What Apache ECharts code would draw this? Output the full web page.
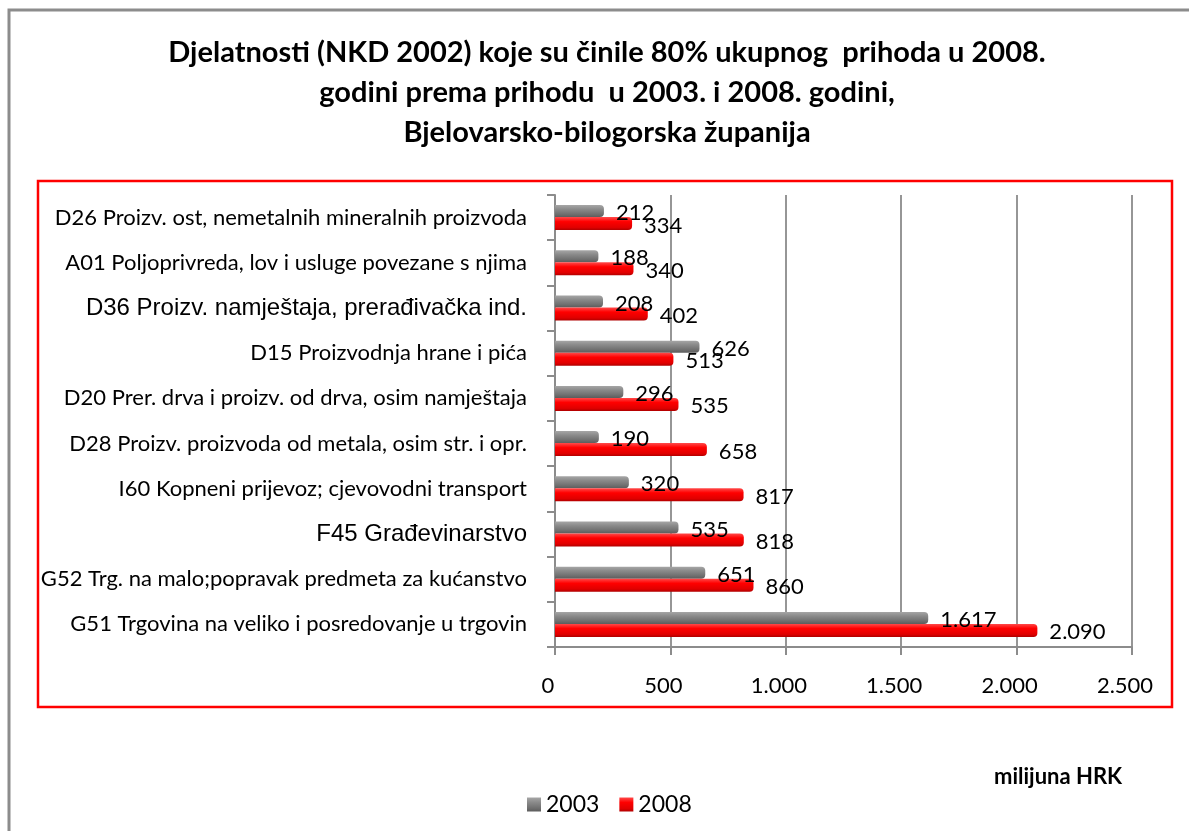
<!DOCTYPE html>
<html>
<head>
<meta charset="utf-8">
<script src="https://cdn.jsdelivr.net/npm/echarts@6/dist/echarts.min.js"></script>
<style>
  html, body { margin: 0; padding: 0; background: #fff; }
  #chart { width: 1189px; height: 831px; }
</style>
</head>
<body>
<div id="chart"></div>
<script>
// data
const categories = [
    'D26 Proizv. ost, nemetalnih mineralnih proizvoda',
    'A01 Poljoprivreda, lov i usluge povezane s njima',
    'D36 Proizv. namještaja, prerađivačka ind.',
    'D15 Proizvodnja hrane i pića',
    'D20 Prer. drva i proizv. od drva, osim namještaja',
    'D28 Proizv. proizvoda od metala, osim str. i opr.',
    'I60 Kopneni prijevoz; cjevovodni transport',
    'F45 Građevinarstvo',
    'G52 Trg. na malo;popravak predmeta za kućanstvo',
    'G51 Trgovina na veliko i posredovanje u trgovin'
];
const values2003 = [212, 188, 208, 626, 296, 190, 320, 535, 651, 1617];
const values2008 = [334, 340, 402, 513, 535, 658, 817, 818, 860, 2090];
const seriesNames = ['2003', '2008'];
const xTicks = [0, 500, 1000, 1500, 2000, 2500];
const titleLines = [
    'Djelatnosti (NKD 2002) koje su činile 80% ukupnog  prihoda u 2008.',
    'godini prema prihodu  u 2003. i 2008. godini,',
    'Bjelovarsko-bilogorska županija'
];
const unitText = 'milijuna HRK';
// these two labels are set in Arial in the original
const arialLabels = ['D36 Proizv. namještaja, prerađivačka ind.', 'F45 Građevinarstvo'];

const fmt = v => String(v).replace(/\B(?=(\d{3})+(?!\d))/g, '.');

const grayFill = new echarts.graphic.LinearGradient(0, 0, 0, 1, [
    { offset: 0, color: '#a6a6a6' },
    { offset: 0.35, color: '#8a8a8a' },
    { offset: 0.75, color: '#707070' },
    { offset: 1, color: '#5c5c5c' }
]);
const redFill = new echarts.graphic.LinearGradient(0, 0, 0, 1, [
    { offset: 0, color: '#ff4a4a' },
    { offset: 0.35, color: '#ff0000' },
    { offset: 0.8, color: '#e00000' },
    { offset: 1, color: '#b00000' }
]);

const valueLabel = {
    show: true,
    position: 'right',
    distance: 12,
    offset: [0, 2],
    color: '#000',
    fontFamily: 'Lato',
    fontSize: 22,
    formatter: p => fmt(p.value)
};

const chart = echarts.init(document.getElementById('chart'));

const option = {
    animation: false,
    backgroundColor: '#fff',
    title: {
        text: titleLines.join('\n'),
        left: 602,
        textAlign: 'center',
        top: 28,
        textStyle: {
            fontFamily: 'Lato',
            fontWeight: 'bold',
            fontSize: 29,
            lineHeight: 40,
            color: '#000'
        }
    },
    legend: {
        data: seriesNames,
        left: 522,
        top: 788,
        itemWidth: 14,
        itemHeight: 14,
        itemGap: 20,
        icon: 'rect',
        textStyle: { fontFamily: 'Lato', fontSize: 23, color: '#000' }
    },
    grid: {
        left: 555,
        right: 57,
        top: 195,
        bottom: 184
    },
    xAxis: {
        type: 'value',
        min: xTicks[0],
        max: xTicks[xTicks.length - 1],
        interval: xTicks[1] - xTicks[0],
        axisLine: { show: true, lineStyle: { color: '#8c8c8c', width: 2 } },
        axisTick: { show: true, length: 8, lineStyle: { color: '#8c8c8c', width: 2 } },
        splitLine: { show: true, lineStyle: { color: '#969696', width: 2 } },
        axisLabel: {
            margin: 28,
            color: '#000',
            fontFamily: 'Lato',
            fontSize: 22,
            padding: [0, 14, 0, 0],
            formatter: v => fmt(v)
        }
    },
    yAxis: {
        type: 'category',
        inverse: true,
        data: categories,
        axisLine: { show: true, lineStyle: { color: '#8c8c8c', width: 2 } },
        axisTick: { show: true, length: 8, lineStyle: { color: '#8c8c8c', width: 2 } },
        axisLabel: {
            margin: 28,
            color: '#000',
            fontFamily: 'Lato',
            fontSize: 22,
            formatter: v => arialLabels.includes(v) ? '{a|' + v + '}' : v,
            rich: {
                a: { fontFamily: 'Liberation Sans, Arial', fontSize: 24, color: '#000' }
            }
        }
    },
    series: [
        {
            name: seriesNames[0],
            type: 'bar',
            data: values2003,
            barWidth: 12,
            barGap: '0%',
            itemStyle: { color: grayFill, borderRadius: [0, 4, 4, 0] },
            label: valueLabel
        },
        {
            name: seriesNames[1],
            type: 'bar',
            data: values2008,
            barWidth: 13,
            itemStyle: { color: redFill, borderRadius: [0, 4, 4, 0] },
            label: valueLabel
        }
    ],
    graphic: [
        {
            type: 'polyline',
            silent: true,
            shape: { points: [[9, 831], [9, 10], [1189, 10]] },
            style: { stroke: '#8c8c8c', lineWidth: 3, fill: null }
        },
        {
            type: 'rect',
            silent: true,
            shape: { x: 38, y: 181, width: 1134, height: 526 },
            style: { stroke: '#ff0000', lineWidth: 2.5, fill: null }
        },
        {
            type: 'text',
            silent: true,
            left: 994,
            top: 766,
            style: {
                text: unitText,
                fontFamily: 'Lato',
                fontWeight: 'bold',
                fontSize: 22,
                fill: '#000'
            }
        }
    ]
};

chart.setOption(option);
</script>
</body>
</html>
